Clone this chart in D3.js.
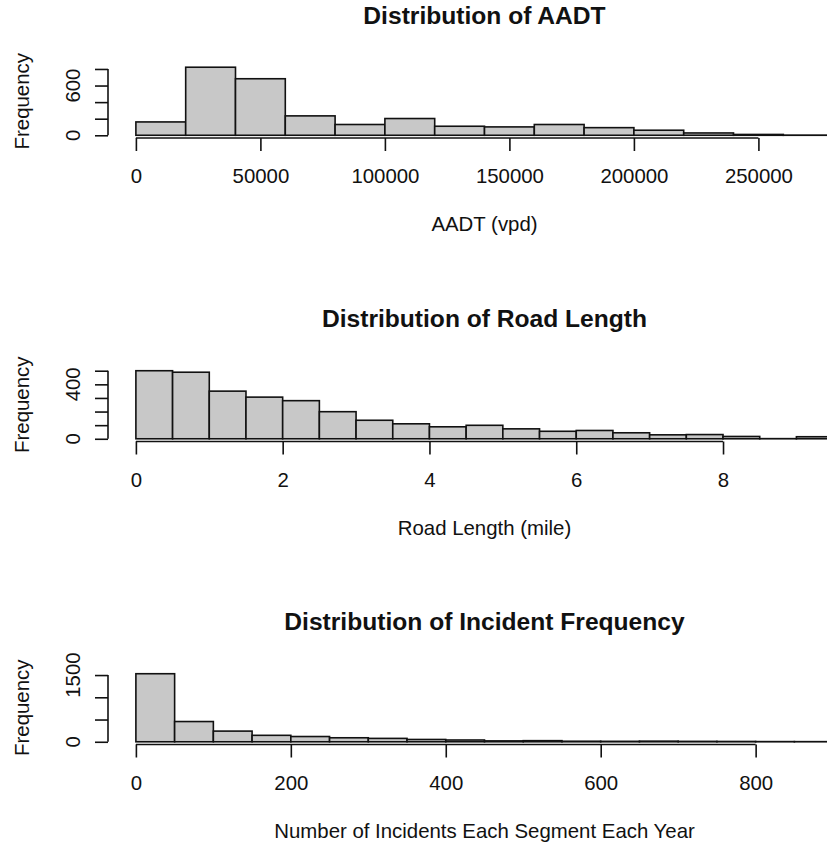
<html>
<head>
<style>
  body { margin: 0; background: #fff; }
  text { font-family: "Liberation Sans", Arial, sans-serif; fill: #111; }
</style>
</head>
<body>
<script src="https://cdn.jsdelivr.net/npm/d3@7/dist/d3.min.js"></script>
<script>
// AADT histogram
var aadtBreaks = [0, 20000, 40000, 60000, 80000, 100000, 120000, 140000, 160000, 180000, 200000, 220000, 240000, 260000, 280000];
var aadtCounts = [161, 821, 682, 234, 130, 202, 109, 101, 130, 92, 61, 28, 10, 2];
var aadtTicks = [0, 50000, 100000, 150000, 200000, 250000];
var aadtFreqTicks = [0, 200, 400, 600, 800];
var aadtFreqLabels = ["0", "", "", "600", ""];

// road length histogram
var roadBreaks = [0, 0.5, 1, 1.5, 2, 2.5, 3, 3.5, 4, 4.5, 5, 5.5, 6, 6.5, 7, 7.5, 8, 8.5, 9, 9.5];
var roadCounts = [500, 489, 350, 306, 280, 199, 136, 110, 88, 99, 73, 55, 61, 44, 29, 31, 17, 1, 15];
var roadTicks = [0, 2, 4, 6, 8];
var roadFreqTicks = [0, 100, 200, 300, 400, 500];
var roadFreqLabels = ["0", "", "", "", "400", ""];

// incident frequency histogram
var incBreaks = [0, 50, 100, 150, 200, 250, 300, 350, 400, 450, 500, 550, 600, 650, 700, 750, 800, 850, 900];
var incCounts = [1530, 455, 240, 145, 118, 90, 76, 52, 40, 20, 25, 12, 10, 14, 9, 7, 4, 3];
var incTicks = [0, 200, 400, 600, 800];
var incFreqTicks = [0, 500, 1000, 1500];
var incFreqLabels = ["0", "", "", "1500"];

var width = 827;
var height = 847;
var plotL = 108;
var plotR = 861;
var plotH = 73.5;
var tickLen = 13;
var lw = 1.6;

var svg = d3.select("body").append("svg")
  .attr("width", width)
  .attr("height", height);

function drawHist(top, title, xlab, breaks, counts, xTicks, yTicks, yLabels) {
  var lo = breaks[0], hi = breaks[breaks.length - 1];
  var ext = 0.04 * (hi - lo);
  var x = d3.scaleLinear().domain([lo - ext, hi + ext]).range([plotL, plotR]);
  var M = d3.max(counts);
  var y = d3.scaleLinear().domain([-0.04 * M, 1.04 * M]).range([top + plotH, top]);
  var bottom = top + plotH;
  var cx = (plotL + plotR) / 2;

  var g = svg.append("g");

  g.selectAll("rect.bar")
    .data(counts)
    .enter().append("rect")
    .attr("class", "bar")
    .attr("x", function(d, i) { return x(breaks[i]); })
    .attr("width", function(d, i) { return x(breaks[i + 1]) - x(breaks[i]); })
    .attr("y", function(d) { return y(d); })
    .attr("height", function(d) { return y(0) - y(d); })
    .attr("fill", "#c8c8c8")
    .attr("stroke", "#111")
    .attr("stroke-width", lw);

  // x axis, only from first to last tick like R
  var xa = g.append("g")
    .attr("transform", "translate(0," + bottom + ")")
    .call(d3.axisBottom(x).tickValues(xTicks).tickSize(tickLen).tickPadding(18)
      .tickFormat(function(d) { return String(d); }));
  xa.select(".domain").remove();
  xa.append("line")
    .attr("x1", x(xTicks[0])).attr("x2", x(xTicks[xTicks.length - 1]))
    .attr("stroke", "#111").attr("stroke-width", lw);
  xa.selectAll(".tick line").attr("stroke", "#111").attr("stroke-width", lw);
  xa.selectAll(".tick text")
    .attr("fill", "#111")
    .style("font-family", "'Liberation Sans', Arial, sans-serif")
    .style("font-size", "20.4px");

  // y axis
  var ya = g.append("g")
    .attr("transform", "translate(" + plotL + ",0)")
    .call(d3.axisLeft(y).tickValues(yTicks).tickSize(tickLen).tickFormat(""));
  ya.select(".domain").remove();
  ya.append("line")
    .attr("y1", y(yTicks[0])).attr("y2", y(yTicks[yTicks.length - 1]))
    .attr("stroke", "#111").attr("stroke-width", lw);
  ya.selectAll(".tick line").attr("stroke", "#111").attr("stroke-width", lw);

  g.selectAll("text.ylab")
    .data(yTicks)
    .enter().append("text")
    .attr("class", "ylab")
    .attr("transform", function(d) { return "translate(80," + y(d) + ") rotate(-90)"; })
    .attr("text-anchor", "middle")
    .style("font-size", "20.4px")
    .text(function(d, i) { return yLabels[i]; });

  g.append("text")
    .attr("transform", "translate(29," + (top + plotH / 2) + ") rotate(-90)")
    .attr("text-anchor", "middle")
    .style("font-size", "20.4px")
    .text("Frequency");

  g.append("text")
    .attr("x", cx)
    .attr("y", top - 41)
    .attr("text-anchor", "middle")
    .style("font-size", "24.6px")
    .style("font-weight", "bold")
    .text(title);

  g.append("text")
    .attr("x", cx)
    .attr("y", bottom + 93)
    .attr("text-anchor", "middle")
    .style("font-size", "20.4px")
    .text(xlab);
}

drawHist(64.5, "Distribution of AADT", "AADT (vpd)",
  aadtBreaks, aadtCounts, aadtTicks, aadtFreqTicks, aadtFreqLabels);
drawHist(368, "Distribution of Road Length", "Road Length (mile)",
  roadBreaks, roadCounts, roadTicks, roadFreqTicks, roadFreqLabels);
drawHist(671, "Distribution of Incident Frequency", "Number of Incidents Each Segment Each Year",
  incBreaks, incCounts, incTicks, incFreqTicks, incFreqLabels);
</script>
</body>
</html>
